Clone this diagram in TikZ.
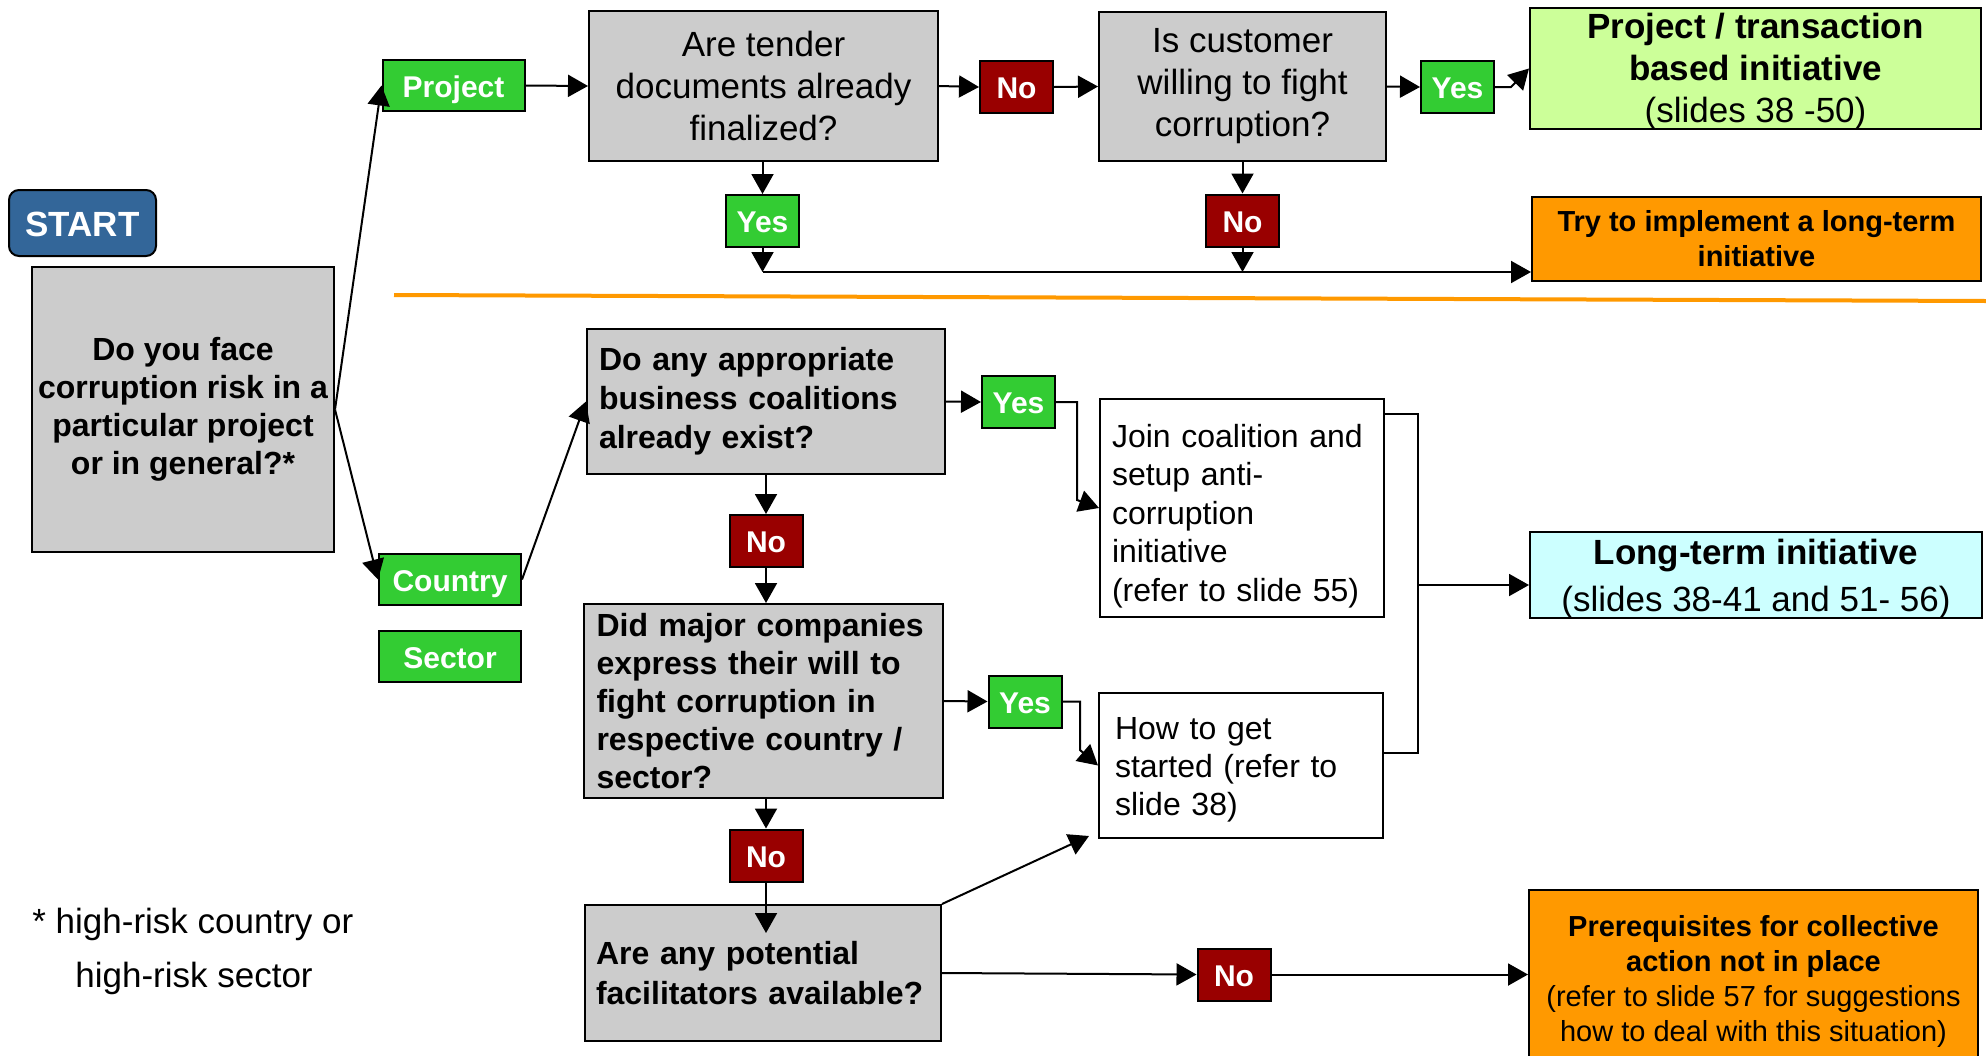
\documentclass[tikz,border=0pt]{standalone}
\usepackage{fontspec}
\setmainfont{Liberation Sans}
\usetikzlibrary{arrows.meta}
\definecolor{boxgrey}{HTML}{CCCCCC}
\definecolor{yesgreen}{HTML}{33CC33}
\definecolor{nored}{HTML}{990000}
\definecolor{warnorange}{HTML}{FF9900}
\definecolor{paleGreen}{HTML}{CCFF99}
\definecolor{paleCyan}{HTML}{CCFFFF}
\definecolor{startblue}{HTML}{336699}
\newcommand\fs[2]{\fontsize{#1}{#2}\selectfont}

\begin{document}
\begin{tikzpicture}[x=0.5pt,y=-0.5pt,
  box/.style={draw=black, line width=1pt, inner sep=0pt, align=center},
  qbox/.style={box, fill=boxgrey},
  txt/.style={inner sep=0pt},
  lbl/.style={box, text=white, font=\fs{15}{18}\bfseries, minimum width=36.5pt, minimum height=26pt,
              text height=11.5pt, text depth=0pt},
  yeslbl/.style={lbl, fill=yesgreen},
  nolbl/.style={lbl, fill=nored},
  choice/.style={lbl, fill=yesgreen, minimum width=71pt, minimum height=25.5pt},
  arr/.style={-{Triangle[length=10pt,width=11pt]}, line width=1pt},
  ln/.style={line width=1pt}]

\useasboundingbox (0,0) rectangle (1986,1055);
\fill[white] (0,0) rectangle (1986,1055);

% ---------- upper part: project path ----------
\node[box, fill=startblue, rounded corners=5pt, minimum width=73.5pt, minimum height=33pt,
      text=white, font=\fs{17.5}{21}\bfseries, text height=13pt, text depth=0pt] (start) at (82.5,223) {START};
\node[qbox, minimum width=151pt, minimum height=142.5pt, font=\fs{16}{19}\bfseries] (face)
      at (183,409.5) {Do you face\\corruption risk in a\\particular project\\or in general?*};

\node[choice] (project) at (453.5,85.5) {Project};
\node[qbox, minimum width=174.5pt, minimum height=75pt, font=\fs{17.5}{21}] (tender)
      at (763.5,86) {Are tender\\documents already\\finalized?};
\node[nolbl] (no1) at (1016.5,87) {No};
\node[qbox, minimum width=143.5pt, minimum height=74.5pt, font=\fs{17.5}{21}] (customer)
      at (1242.5,86.5) {Is customer\\willing to fight\\corruption?};
\node[yeslbl] (yes1) at (1457.5,87) {Yes};
\node[box, fill=paleGreen, minimum width=225.5pt, minimum height=60.5pt] (ptb) at (1755.5,68.5) {};
\node[txt, align=center, font=\fs{17.5}{21}] (ptbTxt) at ([yshift=-1.5pt]ptb.center)
      {\textbf{Project / transaction}\\\textbf{based initiative}\\(slides 38 -50)};
\node[yeslbl] (yes2) at (762.5,221) {Yes};
\node[nolbl] (no2) at (1242.5,220.5) {No};
\node[box, fill=warnorange, minimum width=224.5pt, minimum height=42pt, font=\fs{14.5}{17.5}\bfseries] (try)
      at (1756.5,239) {Try to implement a long-term\\initiative};

% ---------- lower part: country / sector path ----------
\node[choice] (country) at (450,579.5) {Country};
\node[choice] (sector) at (450,656.5) {Sector};
\node[qbox, align=left, text width=167pt, inner xsep=6pt, minimum height=72.5pt, font=\fs{16}{19.5}\bfseries] (coal)
      at (766,401.5) {Do any appropriate\\business coalitions\\already exist?};
\node[yeslbl] (yes3) at (1018.5,402) {Yes};
\node[box, fill=white, minimum width=142pt, minimum height=109pt] (join) at (1242,508) {};
\node[txt, align=left, text width=130pt, font=\fs{16}{19.25}] (joinTxt) at ([yshift=-4pt]join.center)
      {Join coalition and\\setup anti-\\corruption\\initiative\\(refer to slide 55)};
\node[box, fill=paleCyan, minimum width=226pt, minimum height=43pt] (lt) at (1756,575) {};
\node[txt, align=center, font=\fs{17.5}{23.5}] (ltTxt) at ([yshift=-2pt]lt.center)
      {\textbf{Long-term initiative}\\(slides 38-41 and 51- 56)};
\node[nolbl] (no3) at (766,541) {No};
\node[qbox, align=left, text width=167pt, inner xsep=6.25pt, minimum height=97pt, font=\fs{16}{19}\bfseries] (did)
      at (763.5,701) {Did major companies\\express their will to\\fight corruption in\\respective country /\\sector?};
\node[yeslbl] (yes4) at (1025,701.5) {Yes};
\node[box, fill=white, minimum width=142pt, minimum height=72.5pt] (how) at (1241,765.5) {};
\node[txt, align=left, text width=126pt, font=\fs{16}{19}] (howTxt) at ([yshift=-2pt]how.center)
      {How to get\\started (refer to\\slide 38)};
\node[nolbl] (no4) at (766,855.5) {No};
\node[qbox, align=left, text width=167pt, inner xsep=5.5pt, minimum height=68pt, font=\fs{16}{20}\bfseries] (fac)
      at (763,973) {Are any potential\\facilitators available?};
\node[nolbl] (no5) at (1234,974.5) {No};
\node[box, fill=warnorange, minimum width=224.5pt, minimum height=91pt, font=\fs{14.5}{17.5}] (pre)
      at (1753.5,981) {\textbf{Prerequisites for collective}\\\textbf{action not in place}\\(refer to slide 57 for suggestions\\how to deal with this situation)};

% footnote
\node[anchor=base west, txt, font=\fs{17.5}{21}] (note1) at (32,933) {* high-risk country or};
\node[anchor=base west, txt, font=\fs{17.5}{21}] (note2) at (75,987) {high-risk sector};

% ---------- divider ----------
\coordinate (divL) at (394,295);
\coordinate (divR) at (1986,301);
\draw[warnorange, line width=2pt] (divL) -- (divR);

% ---------- connectors ----------
\draw[arr] (face.east) -- (project.west);
\draw[arr] (face.east) -- (country.west);
\draw[arr] (project.east) -- (tender.west);
\draw[arr] (tender.east) -- (no1.west);
\draw[arr] (no1.east) -- (customer.west);
\draw[arr] (customer.east) -- (yes1.west);
\draw[arr] (yes1.east) -- ++(16,0) -- (ptb.west);
\draw[arr] (tender.south -| yes2.north) -- (yes2.north);
\draw[arr] (customer.south) -- (no2.north);
\coordinate (busL) at (762.5,272);
\coordinate (busM) at (1242.5,272);
\draw[arr] (yes2.south) -- (busL);
\draw[arr] (no2.south) -- (busM);
\draw[arr] (busL) -- (try.west |- busL);

\draw[arr] (country.east) -- (coal.west);
\draw[arr] (coal.east) -- (yes3.west);
\draw[arr] (yes3.east) -- (1077,402) -- (1077,500) -- (join.west);
\draw[arr] (coal.south) -- (no3.north);
\draw[arr] (no3.south) -- (no3.south |- did.north);
\draw[arr] (did.east) -- (yes4.west);
\draw[arr] (yes4.east) -- (1080,701.5) -- (1080,750) -- (how.west);
\coordinate (merge) at (1418,585);
\draw[ln] ([yshift=-8pt]join.north east) -| (merge) |- ([yshift=6.25pt]how.east);
\draw[arr] (merge) -- (lt.west |- merge);
\draw[arr] (did.south -| no4.north) -- (no4.north);
\coordinate (facIn) at (766,933);
\draw[arr] (no4.south) -- (facIn);
\draw[arr] (fac.north east) -- ([xshift=-4.5pt,yshift=1.5pt]how.south west);
\draw[arr] (fac.east) -- (no5.west);
\draw[arr] (no5.east) -- (pre.west |- no5.east);
\end{tikzpicture}
\end{document}
